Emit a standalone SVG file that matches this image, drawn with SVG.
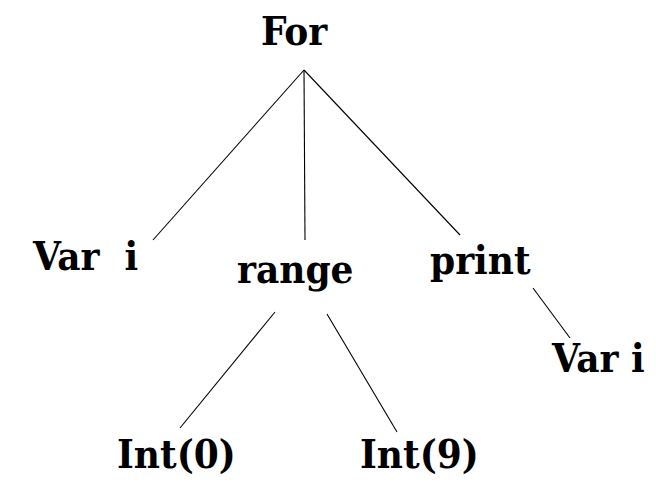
<svg xmlns="http://www.w3.org/2000/svg" width="656" height="484" viewBox="0 0 656 484">
<style>
text{font-family:"DejaVu Serif Condensed","DejaVu Serif",serif;font-stretch:condensed;font-weight:bold;font-size:40px;fill:#000;white-space:pre}
.e{stroke:#000;stroke-width:1.1;fill:none}
</style>
<rect width="656" height="484" fill="#fff"/>
<g id="connectors">
<line class="e" x1="304" y1="70" x2="153" y2="240"/>
<line class="e" x1="304" y1="70" x2="305" y2="240"/>
<line class="e" x1="304" y1="70" x2="460" y2="235"/>
<line class="e" x1="533" y1="288" x2="570" y2="338"/>
<line class="e" x1="275" y1="312" x2="180" y2="428"/>
<line class="e" x1="327" y1="314" x2="397" y2="432"/>
</g>
<g id="for"><text x="261" y="45">For</text></g>
<g id="var1"><text x="33" y="270" xml:space="preserve">Var  i</text></g>
<g id="range"><text x="237" y="283">range</text></g>
<g id="print"><text x="430" y="274">print</text></g>
<g id="var2"><text x="552" y="372">Var i</text></g>
<g id="int0"><text x="117" y="468">Int(0)</text></g>
<g id="int9"><text x="360" y="468">Int(9)</text></g>
</svg>
